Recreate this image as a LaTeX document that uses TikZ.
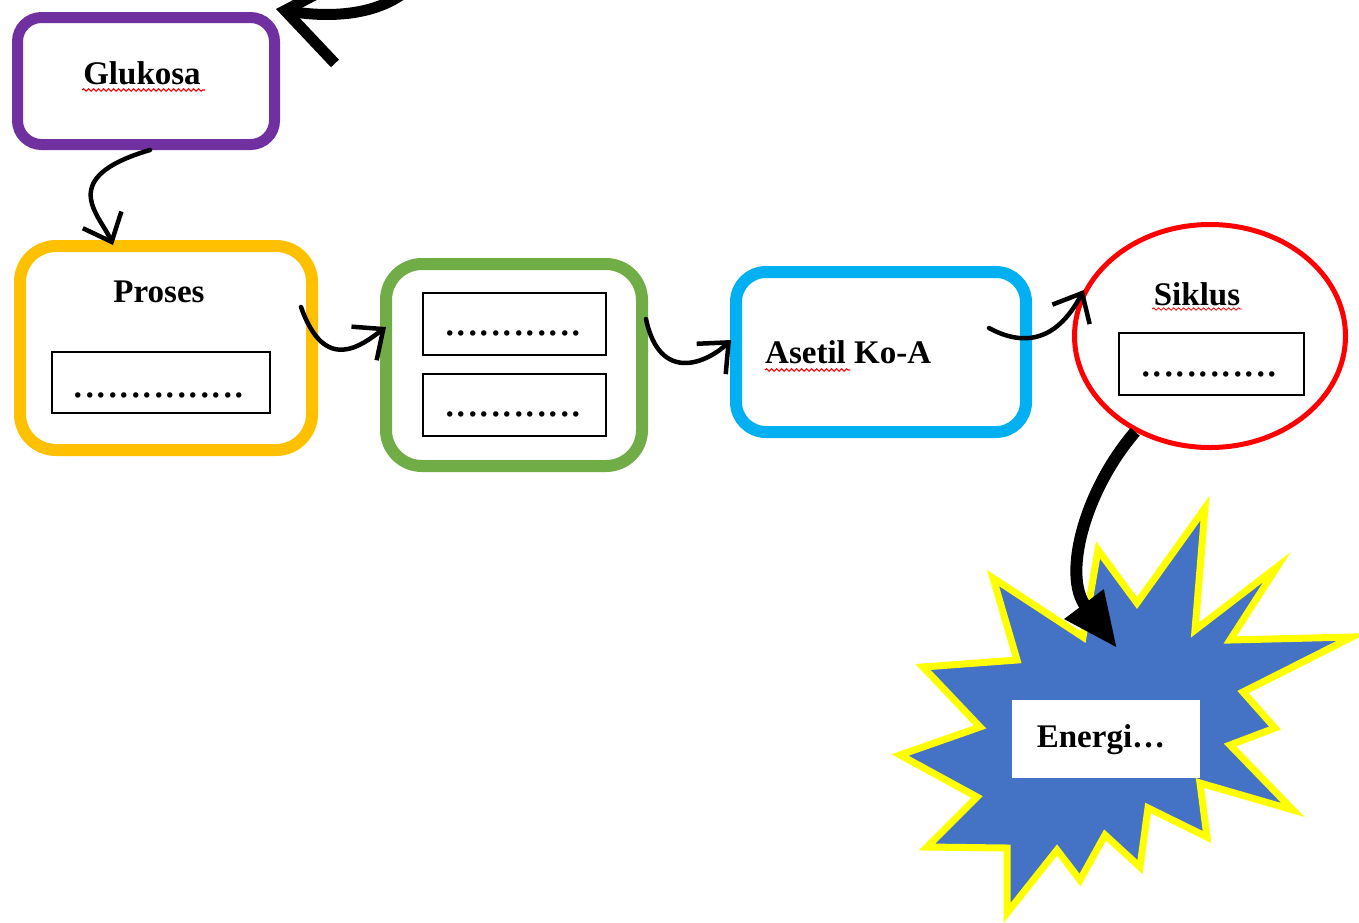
\documentclass[tikz,border=0pt]{standalone}
\usepackage{fontspec}
\setmainfont{Liberation Serif}
\usetikzlibrary{arrows.meta,decorations.pathmorphing,shapes.geometric}
\definecolor{cpurple}{HTML}{7030A0}
\definecolor{corange}{HTML}{FFC000}
\definecolor{cgreen}{HTML}{70AD47}
\definecolor{cblue}{HTML}{00B0F0}
\definecolor{cred}{HTML}{FF0000}
\definecolor{cstar}{HTML}{4472C4}
\definecolor{cyel}{HTML}{FFFF00}
\begin{document}
\begin{tikzpicture}[x=1pt,y=-1pt,
  frame/.style={draw, inner sep=0pt, line width=12pt, rounded corners=30pt},
  slot/.style={draw, line width=2pt, inner sep=0pt, minimum width=184pt, minimum height=62pt},
  boxlabel/.style={font=\fontsize{33}{40}\selectfont\bfseries, inner sep=0pt, anchor=base},
  dotrow/.style={font=\fontsize{46}{50}\selectfont, inner sep=0pt, anchor=base},
  hand/.style={line width=4.5pt, line cap=round, -{Straight Barb[length=24pt,width=42pt]}},
  wavy/.style={cred, line width=1.1pt, decorate, decoration={snake, amplitude=1.2pt, segment length=5pt}}
]
\useasboundingbox (0,0) rectangle (1359,922);
\fill[white] (0,0) rectangle (1359,922);

% boxes
\node[frame, draw=cpurple, line width=11pt, rounded corners=24pt, minimum width=257pt, minimum height=127pt] (glu) at (146,81) {};
\node[boxlabel] (glut) at (142,84) {Glukosa};
\draw[wavy] (82,90) -- (205,90);

\node[frame, draw=corange, rounded corners=36pt, minimum width=292pt, minimum height=204pt] (pro) at (166,348) {};
\node[boxlabel] (prot) at (159,302) {Proses};
\node[slot, minimum width=218pt, minimum height=61pt] (proin) at (161,382.5) {};
\node[dotrow] (prod) at (159,397) {...............};

\node[frame, draw=cgreen, rounded corners=36pt, minimum width=256pt, minimum height=202pt] (grn) at (514,365) {};
\node[slot, minimum width=183pt] (grna) at (514.5,324) {};
\node[dotrow] (grnad) at (513,335) {............};
\node[slot, minimum width=183pt] (grnb) at (514.5,405) {};
\node[dotrow] (grnbd) at (513,416) {............};

\node[frame, draw=cblue, rounded corners=30pt, minimum width=290pt, minimum height=160pt] (blu) at (881,352) {};
\node[boxlabel, anchor=base west] (blut) at (765,363) {Asetil Ko-A};
\draw[wavy] (765,370) -- (850,370);

\node[ellipse, draw=cred, line width=5pt, inner sep=0pt, minimum width=271pt, minimum height=223pt] (sik) at (1210,336) {};
\node[boxlabel] (sikt) at (1197,305) {Siklus};
\draw[wavy, line width=0.8pt] (1152,309) -- (1242,309);
\node[slot, minimum width=185pt] (sikin) at (1211.5,364) {};
\node[dotrow] (sikd) at (1209,376) {............};

% star
\draw[cyel, line width=7pt, fill=cstar, line join=miter, miter limit=20]
  (1205,508) -- (1195,630) -- (1277,567) -- (1230,640) -- (1352,637) -- (1243,692)
  -- (1275,728) -- (1230,745) -- (1293,810) -- (1200,783) -- (1207,837) -- (1148,808)
  -- (1140,867) -- (1105,835) -- (1080,880) -- (1057,850) -- (1007,913) -- (1007,848)
  -- (927,847) -- (977,797) -- (900,755) -- (980,727) -- (923,667) -- (1017,660)
  -- (993,578) -- (1083,637) -- (1098,550) -- (1137,603) -- cycle;
\node[fill=white, inner sep=0pt, minimum width=188pt, minimum height=78pt] (enbox) at (1106,739) {};
\node[boxlabel] (ent) at (1101,747) {Energi…};

% connectors
\coordinate (topstart) at (425,-30);
\draw[line width=11pt, line cap=round, -{Straight Barb[length=58pt,width=88pt]}]
  (topstart) .. controls (395,18) and (330,18) .. ([xshift=-4pt,yshift=3pt]glu.north east);
\draw[hand] ([xshift=4pt]glu.south) .. controls (55,178) and (100,215) .. ([xshift=-53pt,yshift=-5pt]pro.north);
\draw[hand] ([xshift=-17pt,yshift=41pt]pro.east) .. controls (325,375) and (362,345) .. ([xshift=6pt,yshift=38pt]grn.west);
\draw[hand] ([xshift=-2pt,yshift=46pt]grn.east) .. controls (660,385) and (708,362) .. ([xshift=1pt,yshift=12pt]blu.west);
\draw[hand] ([xshift=-43pt,yshift=24pt]blu.east) .. controls (1020,345) and (1055,345) .. (sik.160);
\coordinate (entip) at (1117,648);
\draw[line width=12pt, -{Triangle[length=55pt,width=46pt]}]
  (sik.-128) .. controls (1085,490) and (1062,575) .. (entip);
\end{tikzpicture}
\end{document}
